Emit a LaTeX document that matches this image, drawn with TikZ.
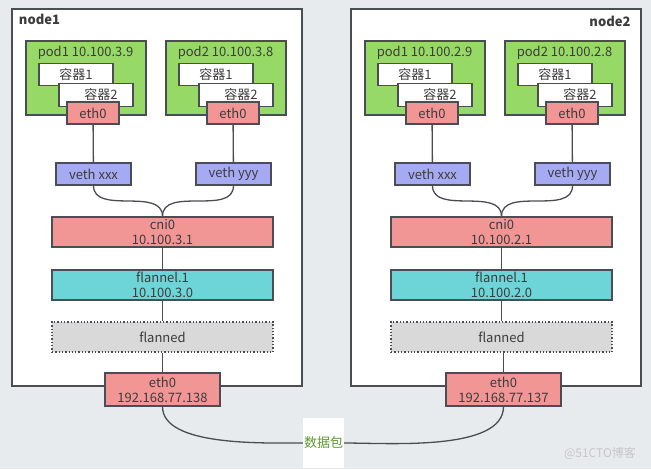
\documentclass[tikz,border=0pt]{standalone}
\usepackage{fontspec}
\setmainfont{Noto Sans CJK SC}
\usepackage{tikz}
\usetikzlibrary{positioning}

\definecolor{bgcol}{HTML}{E7EBEE}
\definecolor{linecol}{HTML}{4A4D54}
\definecolor{podgreen}{HTML}{97D966}
\definecolor{ethred}{HTML}{F19595}
\definecolor{vethblue}{HTML}{A5AAF2}
\definecolor{flancyan}{HTML}{6DD5D8}
\definecolor{flangray}{HTML}{D9D9D9}
\definecolor{txtcol}{HTML}{3C3C3C}
\definecolor{pktgreen}{HTML}{5A9A2C}

\begin{document}
\begin{tikzpicture}[x=1pt, y=-1pt,
    every node/.style={text=txtcol, font=\fontsize{13}{15}\selectfont, inner sep=0pt},
    box/.style={draw=linecol, line width=1.3pt, minimum width=#1},
    hostbox/.style={box=290, minimum height=377, fill=white},
    podbox/.style={box=120, minimum height=74, fill=podgreen},
    ctrbox/.style={box=74, minimum height=22.5, fill=white},
    podeth/.style={box=52, minimum height=22, fill=ethred},
    vethbox/.style={box=75, minimum height=22, fill=vethblue},
    bridgebox/.style={box=221, minimum height=30, align=center},
    hosteth/.style={box=115, minimum height=33, fill=ethred, align=center},
    wire/.style={draw=linecol, line width=1.3pt}]

\useasboundingbox[fill=bgcol] (0,0) rectangle (651,469);

% node1
\node [hostbox] (host1) at (157,197.5) {};
\node [font=\fontsize{13}{15}\selectfont\bfseries] (host1name) at (39.5,19) {node1};

\node [podbox] (h1pod1) at (86,78) {};
\node (h1pod1ip) at (85.5,53) {pod1 10.100.3.9};
\node [ctrbox] (h1pod1c1) at (76,74.5) {容器1};
\node [ctrbox] (h1pod1c2) at (96,95) {\hspace*{10pt}容器2};
\node [podeth] (h1pod1eth) at (93,113) {eth0};

\node [podbox] (h1pod2) at (226,78) {};
\node (h1pod2ip) at (225.5,53) {pod2 10.100.3.8};
\node [ctrbox] (h1pod2c1) at (216,74.5) {容器1};
\node [ctrbox] (h1pod2c2) at (236,95) {\hspace*{10pt}容器2};
\node [podeth] (h1pod2eth) at (233,113) {eth0};

\node [vethbox] (h1vethx) at (93.5,174) {veth xxx};
\node [vethbox] (h1vethy) at (233.5,174) {veth yyy};

\node [bridgebox, fill=ethred] (h1cni) at (162.5,232) {cni0\\10.100.3.1};
\node [bridgebox, fill=flancyan] (h1flannel) at (162.5,285) {flannel.1\\10.100.3.0};
\node [bridgebox, fill=flangray, dotted] (h1flanned) at (162.5,337) {flanned};
\node [hosteth] (h1eth) at (162.5,389.5) {eth0\\192.168.77.138};

\draw [wire] (h1pod1eth) -- (h1vethx);
\draw [wire] (h1pod2eth) -- (h1vethy);
\draw [wire] (h1vethx.south) to[out=-90, in=90] (h1cni.north);
\draw [wire] (h1vethy.south) to[out=-90, in=90] (h1cni.north);
\draw [wire] (h1cni) -- (h1flannel);
\draw [wire] (h1flannel) -- (h1flanned);
\draw [wire] (h1flanned) -- (h1eth);

% node2
\node [hostbox] (host2) at (496,197.5) {};
\node [font=\fontsize{13}{15}\selectfont\bfseries] (host2name) at (610,21) {node2};

\node [podbox] (h2pod1) at (425,78) {};
\node (h2pod1ip) at (424.5,53) {pod1 10.100.2.9};
\node [ctrbox] (h2pod1c1) at (415,74.5) {容器1};
\node [ctrbox] (h2pod1c2) at (435,95) {\hspace*{10pt}容器2};
\node [podeth] (h2pod1eth) at (432,113) {eth0};

\node [podbox] (h2pod2) at (565,78) {};
\node (h2pod2ip) at (564.5,53) {pod2 10.100.2.8};
\node [ctrbox] (h2pod2c1) at (555,74.5) {容器1};
\node [ctrbox] (h2pod2c2) at (575,95) {\hspace*{10pt}容器2};
\node [podeth] (h2pod2eth) at (572,113) {eth0};

\node [vethbox] (h2vethx) at (432.5,174) {veth xxx};
\node [vethbox] (h2vethy) at (572.5,174) {veth yyy};

\node [bridgebox, fill=ethred] (h2cni) at (501.5,232) {cni0\\10.100.2.1};
\node [bridgebox, fill=flancyan] (h2flannel) at (501.5,285) {flannel.1\\10.100.2.0};
\node [bridgebox, fill=flangray, dotted] (h2flanned) at (501.5,337) {flanned};
\node [hosteth] (h2eth) at (503.5,389.5) {eth0\\192.168.77.137};

\draw [wire] (h2pod1eth) -- (h2vethx);
\draw [wire] (h2pod2eth) -- (h2vethy);
\draw [wire] (h2vethx.south) to[out=-90, in=90] (h2cni.north);
\draw [wire] (h2vethy.south) to[out=-90, in=90] (h2cni.north);
\draw [wire] (h2cni) -- (h2flannel);
\draw [wire] (h2flannel) -- (h2flanned);
\draw [wire] (h2flanned.south -| h2eth) -- (h2eth);

% packet between hosts
\node [fill=white, minimum width=41, minimum height=50, text=pktgreen] (packet) at (323.5,443) {数据包};
\draw [wire] (h1eth.south) to[out=-90, in=180, looseness=0.7] (packet.west);
\draw [wire] (h2eth.south) to[out=-90, in=0, looseness=0.7] (packet.east);

\node [text=black!22, font=\fontsize{12}{14}\selectfont] (mark) at (600,453) {@51CTO博客};
\end{tikzpicture}
\end{document}
